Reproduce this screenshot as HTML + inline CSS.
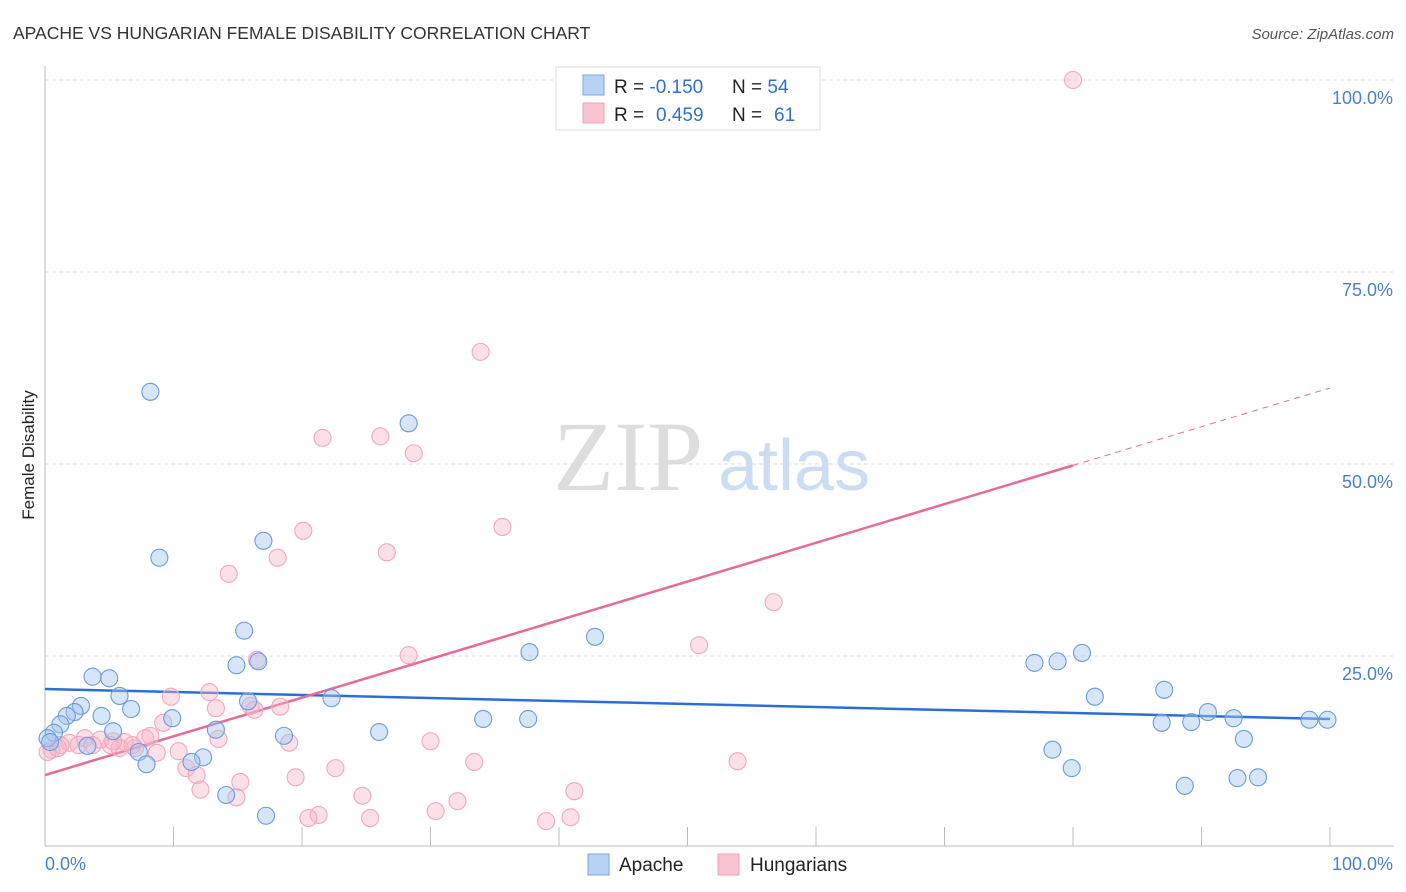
<!DOCTYPE html>
<html><head><meta charset="utf-8"><style>
body{margin:0;background:#fff;font-family:"Liberation Sans",sans-serif;}
svg{display:block}
</style></head><body>
<svg id="chart" width="1406" height="892" xmlns="http://www.w3.org/2000/svg">
<text x="13" y="39" font-size="17.5" fill="#333">APACHE VS HUNGARIAN FEMALE DISABILITY CORRELATION CHART</text>
<text x="1394" y="39" font-size="15" fill="#555" font-style="italic" text-anchor="end">Source: ZipAtlas.com</text>
<text x="0" y="0" transform="translate(34,455) rotate(-90)" font-size="17" fill="#222" text-anchor="middle">Female Disability</text>
<g>
<text x="553" y="490" font-family="Liberation Serif,serif" font-size="100" fill="#ddd">ZIP</text>
<text x="718" y="490" font-size="72" fill="#ccdcf2">atlas</text>
</g>
<g id="grid"></g><g id="axes"></g><g id="lines"></g><g id="pts"></g>
<g>
<rect x="556" y="67" width="264" height="63" fill="#fff" stroke="#ddd"/>
<rect x="583" y="75" width="21" height="20" fill="#b8d2f4" stroke="#7aa6e0"/>
<rect x="583" y="103" width="21" height="20" fill="#f9c4d2" stroke="#f0a0b8"/>
<text x="614" y="93" font-size="19" fill="#222">R = <tspan fill="#2f6fd0">-0.150</tspan><tspan x="732">N = </tspan><tspan fill="#2f6fd0">54</tspan></text>
<text x="614" y="121" font-size="19" fill="#222">R = <tspan x="656" fill="#2f6fd0">0.459</tspan><tspan x="732">N = </tspan><tspan x="774" fill="#2f6fd0">61</tspan></text>
</g>
<g>
<rect x="588" y="854" width="21" height="21" fill="#b8d2f4" stroke="#7aa6e0"/>
<text x="619" y="871" font-size="19" fill="#222">Apache</text>
<rect x="718" y="854" width="21" height="21" fill="#f9c4d2" stroke="#f0a0b8"/>
<text x="750" y="871" font-size="19" fill="#222">Hungarians</text>
</g>
</svg>
<script>
const yTicks=[25,50,75,100];
const yTickLabels=["25.0%","50.0%","75.0%","100.0%"];
const xTicks=[0,10,20,30,40,50,60,70,80,90,100];
const apacheX=[8.2,28.3,8.9,17.0,15.5,42.8,37.7,16.6,14.9,3.7,5.0,5.8,15.8,22.3,2.8,2.3,1.7,6.7,4.4,9.9,1.2,5.3,13.3,0.7,3.3,0.2,0.4,7.3,7.9,12.3,11.4,18.6,26.0,34.1,37.6,14.1,17.2,77.0,78.8,80.7,81.7,87.1,86.9,89.2,90.5,92.5,93.3,78.4,79.9,88.7,92.8,94.4,98.4,99.8];
const apacheY=[59.4,55.3,37.8,40.0,28.3,27.5,25.5,24.3,23.8,22.3,22.1,19.8,19.1,19.5,18.5,17.7,17.2,18.1,17.2,16.9,16.1,15.2,15.4,15.0,13.3,14.3,13.8,12.5,10.9,11.8,11.2,14.6,15.1,16.8,16.8,6.9,4.2,24.1,24.3,25.4,19.7,20.6,16.3,16.4,17.7,16.9,14.2,12.8,10.4,8.1,9.1,9.2,16.7,16.7];
const hungX=[80.0,33.9,21.6,26.1,28.7,35.6,20.1,26.6,18.1,14.3,56.7,50.9,28.3,16.5,9.8,12.8,13.3,18.3,16.0,9.2,19.0,13.5,30.0,8.2,7.8,10.4,8.7,7.0,5.1,4.3,3.1,1.9,1.2,0.5,0.2,6.2,11.0,11.8,15.2,19.5,22.6,33.4,53.9,12.1,14.9,24.7,32.1,41.2,30.4,21.3,20.5,25.3,39.0,40.9,2.6,5.8,3.7,6.8,1.0,16.3,5.3];
const hungY=[100.0,64.6,53.4,53.6,51.4,41.8,41.3,38.5,37.8,35.7,32.0,26.4,25.1,24.5,19.7,20.3,18.2,18.4,18.5,16.3,13.7,14.2,13.9,14.6,14.3,12.6,12.4,13.0,13.4,14.1,14.3,13.7,13.4,12.8,12.5,13.8,10.4,9.5,8.6,9.2,10.4,11.2,11.3,7.6,6.6,6.8,6.1,7.4,4.8,4.3,3.9,3.9,3.5,4.0,13.4,13.0,13.4,13.4,13.0,18.0,13.9];
const apacheTrend=[20.7,16.8];
const hungTrend=[9.5,59.9];
const hungSolidEnd=80;

const NS="http://www.w3.org/2000/svg";
const X=v=>45+v*12.85, Y=v=>848-v*7.68;
function mk(tag,attrs,parent){const e=document.createElementNS(NS,tag);for(const k in attrs)e.setAttribute(k,attrs[k]);document.getElementById(parent).appendChild(e);return e;}
yTicks.forEach((t,i)=>{
 const g=mk('line',{x1:45,x2:1394,y1:Y(t),y2:Y(t),stroke:'#ddd','stroke-dasharray':'4,3'},'grid');
 
 
 const l=mk('text',{x:1393,y:Y(t)+24,'font-size':18,fill:'#4a7fd0','text-anchor':'end'},'axes');
 l.textContent=yTickLabels[i];
 
 
});
const ya=mk('line',{x1:45,x2:45,y1:66,y2:846,stroke:'#bbb'},'axes');


const xa=mk('line',{x1:45,x2:1394,y1:846,y2:846,stroke:'#bbb'},'axes');


xTicks.forEach(t=>{
 const k=mk('line',{x1:X(t),x2:X(t),y1:827,y2:846,stroke:'#bbb'},'axes');
 
 
});
[[0,"0.0%","start",45],[100,"100.0%","end",1393]].forEach(a=>{
 const l=mk('text',{x:a[3],y:870,'font-size':18,fill:'#4a7fd0','text-anchor':a[2]},'axes');
 l.textContent=a[1];
 
 
});
function pts(xs,ys,fill,stroke,name){xs.forEach((x,i)=>{
 const c=mk('circle',{cx:X(x),cy:Y(ys[i]),r:8.5,fill:fill,stroke:stroke,'stroke-width':1.1},'pts');
 
 
});}
pts(hungX,hungY,'rgba(248,180,200,0.42)','#f2a6bd','hungarian-point');
pts(apacheX,apacheY,'rgba(164,198,240,0.45)','#6b9bdc','apache-point');
const bl=mk('line',{x1:X(0),y1:Y(apacheTrend[0]),x2:X(100),y2:Y(apacheTrend[1]),stroke:'#2a6fd6','stroke-width':2.5},'lines');


const hv=v=>hungTrend[0]+(hungTrend[1]-hungTrend[0])*v/100;
const pl=mk('line',{x1:X(0),y1:Y(hv(0)),x2:X(hungSolidEnd),y2:Y(hv(hungSolidEnd)),stroke:'#e8699a','stroke-width':2.5},'lines');


const pd=mk('line',{x1:X(hungSolidEnd),y1:Y(hv(hungSolidEnd)),x2:X(100),y2:Y(hv(100)),stroke:'#e8699a','stroke-width':1,'stroke-dasharray':'6,5'},'lines');


</script>
</body></html>
